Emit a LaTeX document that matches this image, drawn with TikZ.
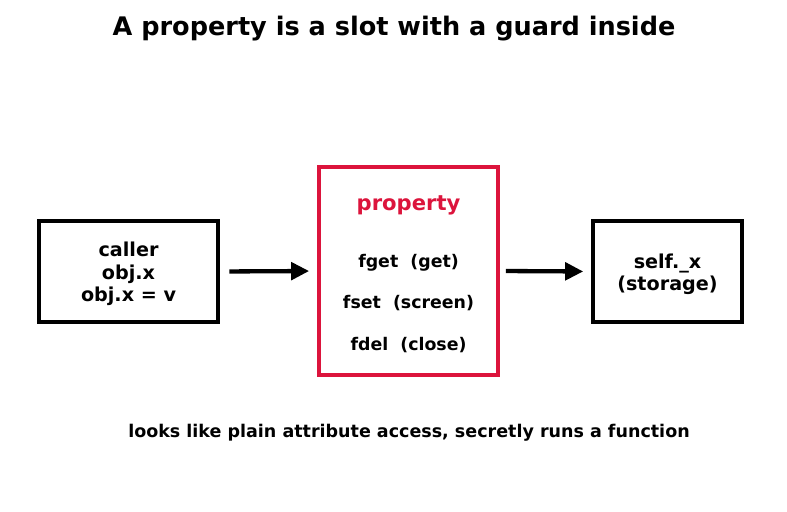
\documentclass[tikz,border=0pt]{standalone}
\usepackage{fontspec}
\setmainfont{DejaVu Sans}
\usetikzlibrary{arrows.meta}
\definecolor{guardR}{RGB}{220,20,60}

\begin{document}
\begin{tikzpicture}[x=0.72pt,y=-0.72pt,>={Triangle[length=13pt,width=12.5pt]},
  slot/.style={draw,line width=3.1pt,minimum height=72.7pt,inner sep=0pt},
  txt/.style={font=\bfseries\fontsize{13.8}{16}\selectfont,align=center,inner sep=0pt}]
\useasboundingbox (0,0) rectangle (787,512);
\node[font=\bfseries\fontsize{18.4}{22}\selectfont] (title) at (394,28.5) {A property is a slot with a guard inside};
% the three boxes
\node[slot,minimum width=129pt,txt] (caller) at (128.5,271.5) {};
\node[txt] (calltext) at (128.5,274) {caller\\obj.x\\obj.x = v};
\node[slot,draw=guardR,minimum width=129pt,minimum height=149.8pt] (prop) at (408.5,271) {};
\node[slot,minimum width=107.3pt] (store) at (667.5,271.5) {};
\node[txt] (storetext) at (667.5,274) {self.\_x\\(storage)};
% inside the guard
\node[txt,text=guardR,font=\bfseries\fontsize{15.2}{18}\selectfont] (ptitle) at (408.5,205.5) {property};
\node[txt,font=\bfseries\fontsize{12.5}{15}\selectfont] (fget) at (408.5,262.5) {fget\ \ (get)};
\node[txt,font=\bfseries\fontsize{12.5}{15}\selectfont] (fset) at (408.5,303.5) {fset\ \ (screen)};
\node[txt,font=\bfseries\fontsize{12.5}{15}\selectfont] (fdel) at (408.5,345.5) {fdel\ \ (close)};
\draw[->,line width=3.1pt,shorten <=6.5pt,shorten >=5.5pt] (caller.east) -- (prop.west);
\draw[->,line width=3.1pt,shorten <=4pt,shorten >=5.5pt] (prop.east) -- (store.west);
\node[font=\bfseries\fontsize{12.6}{15}\selectfont] (note) at (409,432.5) {looks like plain attribute access, secretly runs a function};
\end{tikzpicture}
\end{document}
